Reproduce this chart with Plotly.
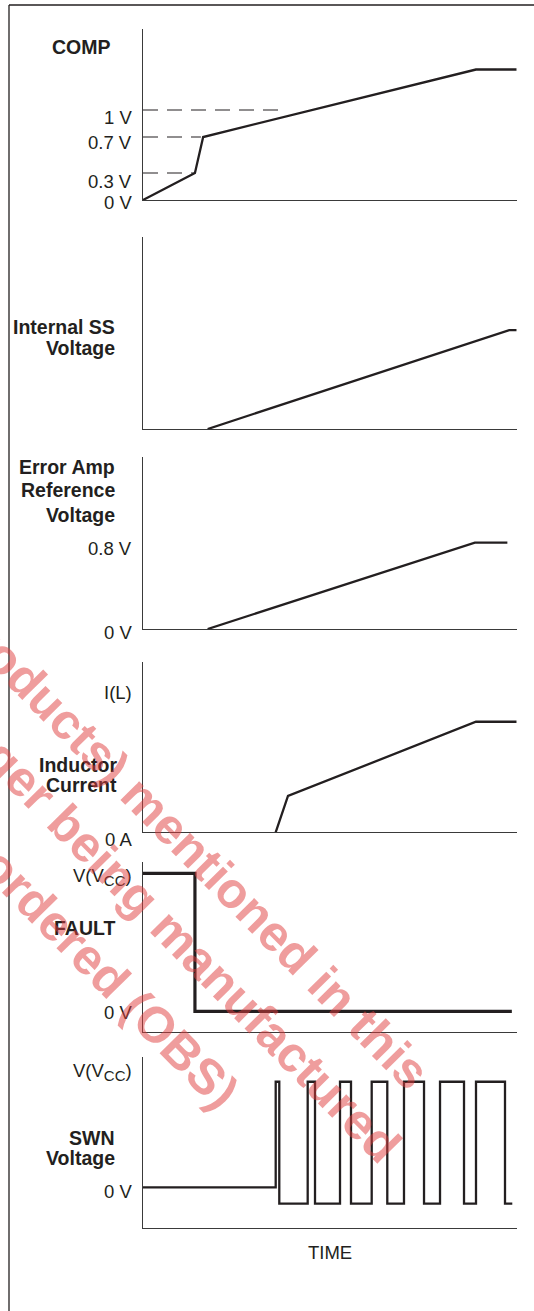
import plotly.graph_objects as go

W, H = 534, 1311

# ---------------- data ----------------
# time axis is schematic: 0 .. 10 arbitrary units
time_range = [0, 10]

comp_t = [0, 1.39, 1.61, 8.91, 10]
comp_v = [0, 0.3, 0.7, 1.45, 1.45]
comp_ref_levels = [1.0, 0.7, 0.3]
comp_ref_end_t = [3.64, 1.55, 1.36]
comp_tick_vals = [1.0, 0.7, 0.3, 0]
comp_tick_text = ["1 V", "0.7 V", "0.3 V", "0 V"]

ss_t = [1.73, 9.80, 10]
ss_v = [0, 0.516, 0.516]

ref_t = [1.73, 8.88, 9.75]
ref_v = [0, 0.8, 0.8]
ref_tick_vals = [0.8, 0]
ref_tick_text = ["0.8 V", "0 V"]

il_t = [3.55, 3.88, 8.91, 10]
il_v = [0, 0.259, 0.788, 0.788]
il_tick_vals = [1, 0]
il_tick_text = ["I(L)", "0 A"]

VCC = "V(V<sub><span style='font-size:15px'>CC</span></sub>)"

fault_t = [0, 1.39, 9.87]
fault_v = [1, 0, 0]
fault_tick_vals = [1, 0]
fault_tick_text = [VCC, "0 V"]

swn_t = [0, 3.551, 3.647, 4.407, 4.603, 5.272, 5.566, 6.120, 6.537,
         6.984, 7.520, 7.948, 8.590, 8.911, 9.687, 9.882]
swn_v = [0, 1, -0.155, 1, -0.155, 1, -0.155, 1, -0.155,
         1, -0.155, 1, -0.155, 1, -0.155, -0.155]
swn_tick_vals = [1, 0]
swn_tick_text = [VCC, "0 V"]

panel_titles = [["COMP"], ["Internal SS", "Voltage"],
                ["Error Amp", "Reference", "Voltage"],
                ["Inductor", "Current"], ["FAULT"], ["SWN", "Voltage"]]
x_title = "TIME"

watermark_lines = ["Products) mentioned in this",
                   "no longer being manufactured",
                   "can no longer be ordered (OBS)"]

# ---------------- layout / style ----------------
INK = "#231f20"
AXC = "#3a3a3a"
FONT = "Liberation Sans, Arial, Helvetica, sans-serif"
FS = 18.5
FS_B = 19.5

x_px = (143, 516.7)
# (top px, bottom px, y-range)
panels = [
    (29.3, 200.0, [0, 1.897]),
    (237.3, 429.0, [0, 1.0]),
    (457.3, 629.0, [0, 1.591]),
    (661.7, 832.3, [0, 1.216]),
    (861.7, 1032.3, [-0.152, 1.084]),
    (1056.7, 1228.3, [-0.388, 1.237]),
]
# title line centers (px) and right edge
title_y = [[46.7], [326.5, 348.0], [466.7, 490.0, 515.0], [765.0, 784.5], [928.0], [1138.3, 1158.3]]
title_right = [113, 117, 117, 119, 117, 117]
tick_right = 133.5
tick_dy = {0: [-7, -5, -8, -2.5], 2: [-5.6, -3.7], 3: [0, -6.7], 4: [-3.7, -1.4], 5: [9.7, -4.4]}

fig = go.Figure()

def ax(i):
    return ("x" if i == 0 else f"x{i+1}"), ("y" if i == 0 else f"y{i+1}")

series = [(comp_t, comp_v, 2.3), (ss_t, ss_v, 2.3), (ref_t, ref_v, 2.3),
          (il_t, il_v, 2.3), (fault_t, fault_v, 3.2), (swn_t, swn_v, 2.3)]

for i, (t, v, lw) in enumerate(series):
    xa, ya = ax(i)
    shape = "hv" if i >= 4 else "linear"
    fig.add_trace(go.Scatter(x=t, y=v, mode="lines", xaxis=xa, yaxis=ya,
                             line=dict(color=INK, width=lw, shape=shape),
                             hoverinfo="skip", showlegend=False))

# dashed reference lines in COMP panel
for lvl, te in zip(comp_ref_levels, comp_ref_end_t):
    fig.add_trace(go.Scatter(x=[0, te], y=[lvl, lvl], mode="lines", xaxis="x", yaxis="y",
                             line=dict(color=INK, width=1.1, dash="15px,9px"),
                             hoverinfo="skip", showlegend=False))

layout = dict(width=W, height=H, margin=dict(l=0, r=0, t=0, b=0),
              paper_bgcolor="white", plot_bgcolor="rgba(0,0,0,0)", showlegend=False,
              font=dict(family=FONT, color=INK, size=FS))

for i, (top, bot, yr) in enumerate(panels):
    xa, ya = ax(i)
    xk = "xaxis" if i == 0 else f"xaxis{i+1}"
    yk = "yaxis" if i == 0 else f"yaxis{i+1}"
    layout[xk] = dict(domain=[x_px[0] / W, x_px[1] / W], range=time_range, anchor=ya,
                      showline=True, linecolor=AXC, linewidth=1.2, showgrid=False,
                      zeroline=False, showticklabels=False, ticks="", fixedrange=True)
    layout[yk] = dict(domain=[1 - bot / H, 1 - top / H], range=yr, anchor=xa,
                      showline=True, linecolor=AXC, linewidth=1.2, showgrid=False,
                      zeroline=False, showticklabels=False, ticks="", fixedrange=True)

annotations = []
tick_sets = {0: (comp_tick_vals, comp_tick_text), 2: (ref_tick_vals, ref_tick_text),
             3: (il_tick_vals, il_tick_text), 4: (fault_tick_vals, fault_tick_text),
             5: (swn_tick_vals, swn_tick_text)}
for i, (vals, texts) in tick_sets.items():
    xa, ya = ax(i)
    for k, (v, s) in enumerate(zip(vals, texts)):
        annotations.append(dict(text=s, xref="paper", yref=ya, x=tick_right / W, y=v,
                                xanchor="right", yanchor="middle", yshift=tick_dy[i][k],
                                showarrow=False, font=dict(size=FS, color=INK)))

for i, lines in enumerate(panel_titles):
    for k, s in enumerate(lines):
        annotations.append(dict(text=s, xref="paper", yref="paper", x=title_right[i] / W,
                                y=1 - title_y[i][k] / H, xanchor="right", yanchor="middle",
                                showarrow=False, font=dict(size=FS_B, color=INK, weight="bold")))

annotations.append(dict(text=x_title, xref="paper", yref="paper", x=330.4 / W, y=1 - 1252.7 / H,
                        xanchor="center", yanchor="middle", showarrow=False,
                        font=dict(size=FS, color=INK)))

# watermark (overlay)
wm_centers = [(188.6, 845.0), (139.0, 897.0), (-35.0, 831.0)]
for s, (cx, cy) in zip(watermark_lines, wm_centers):
    annotations.append(dict(text=s, xref="paper", yref="paper", x=cx / W, y=1 - cy / H,
                            xanchor="center", yanchor="middle", textangle=45.5, showarrow=False,
                            font=dict(size=50, color="rgba(224,60,60,0.5)", weight="bold")))

layout["annotations"] = annotations
layout["shapes"] = [
    dict(type="line", xref="paper", yref="paper", x0=9 / W, x1=9 / W, y0=0, y1=1 - 5 / H,
         line=dict(color=INK, width=1.3)),
    dict(type="line", xref="paper", yref="paper", x0=9 / W, x1=1, y0=1 - 5 / H, y1=1 - 5 / H,
         line=dict(color=INK, width=1.3)),
]
fig.update_layout(**layout)
fig.write_html("out.html", config={"displayModeBar": False},
               post_script="document.body.style.margin='0px';document.body.style.overflow='hidden';")
